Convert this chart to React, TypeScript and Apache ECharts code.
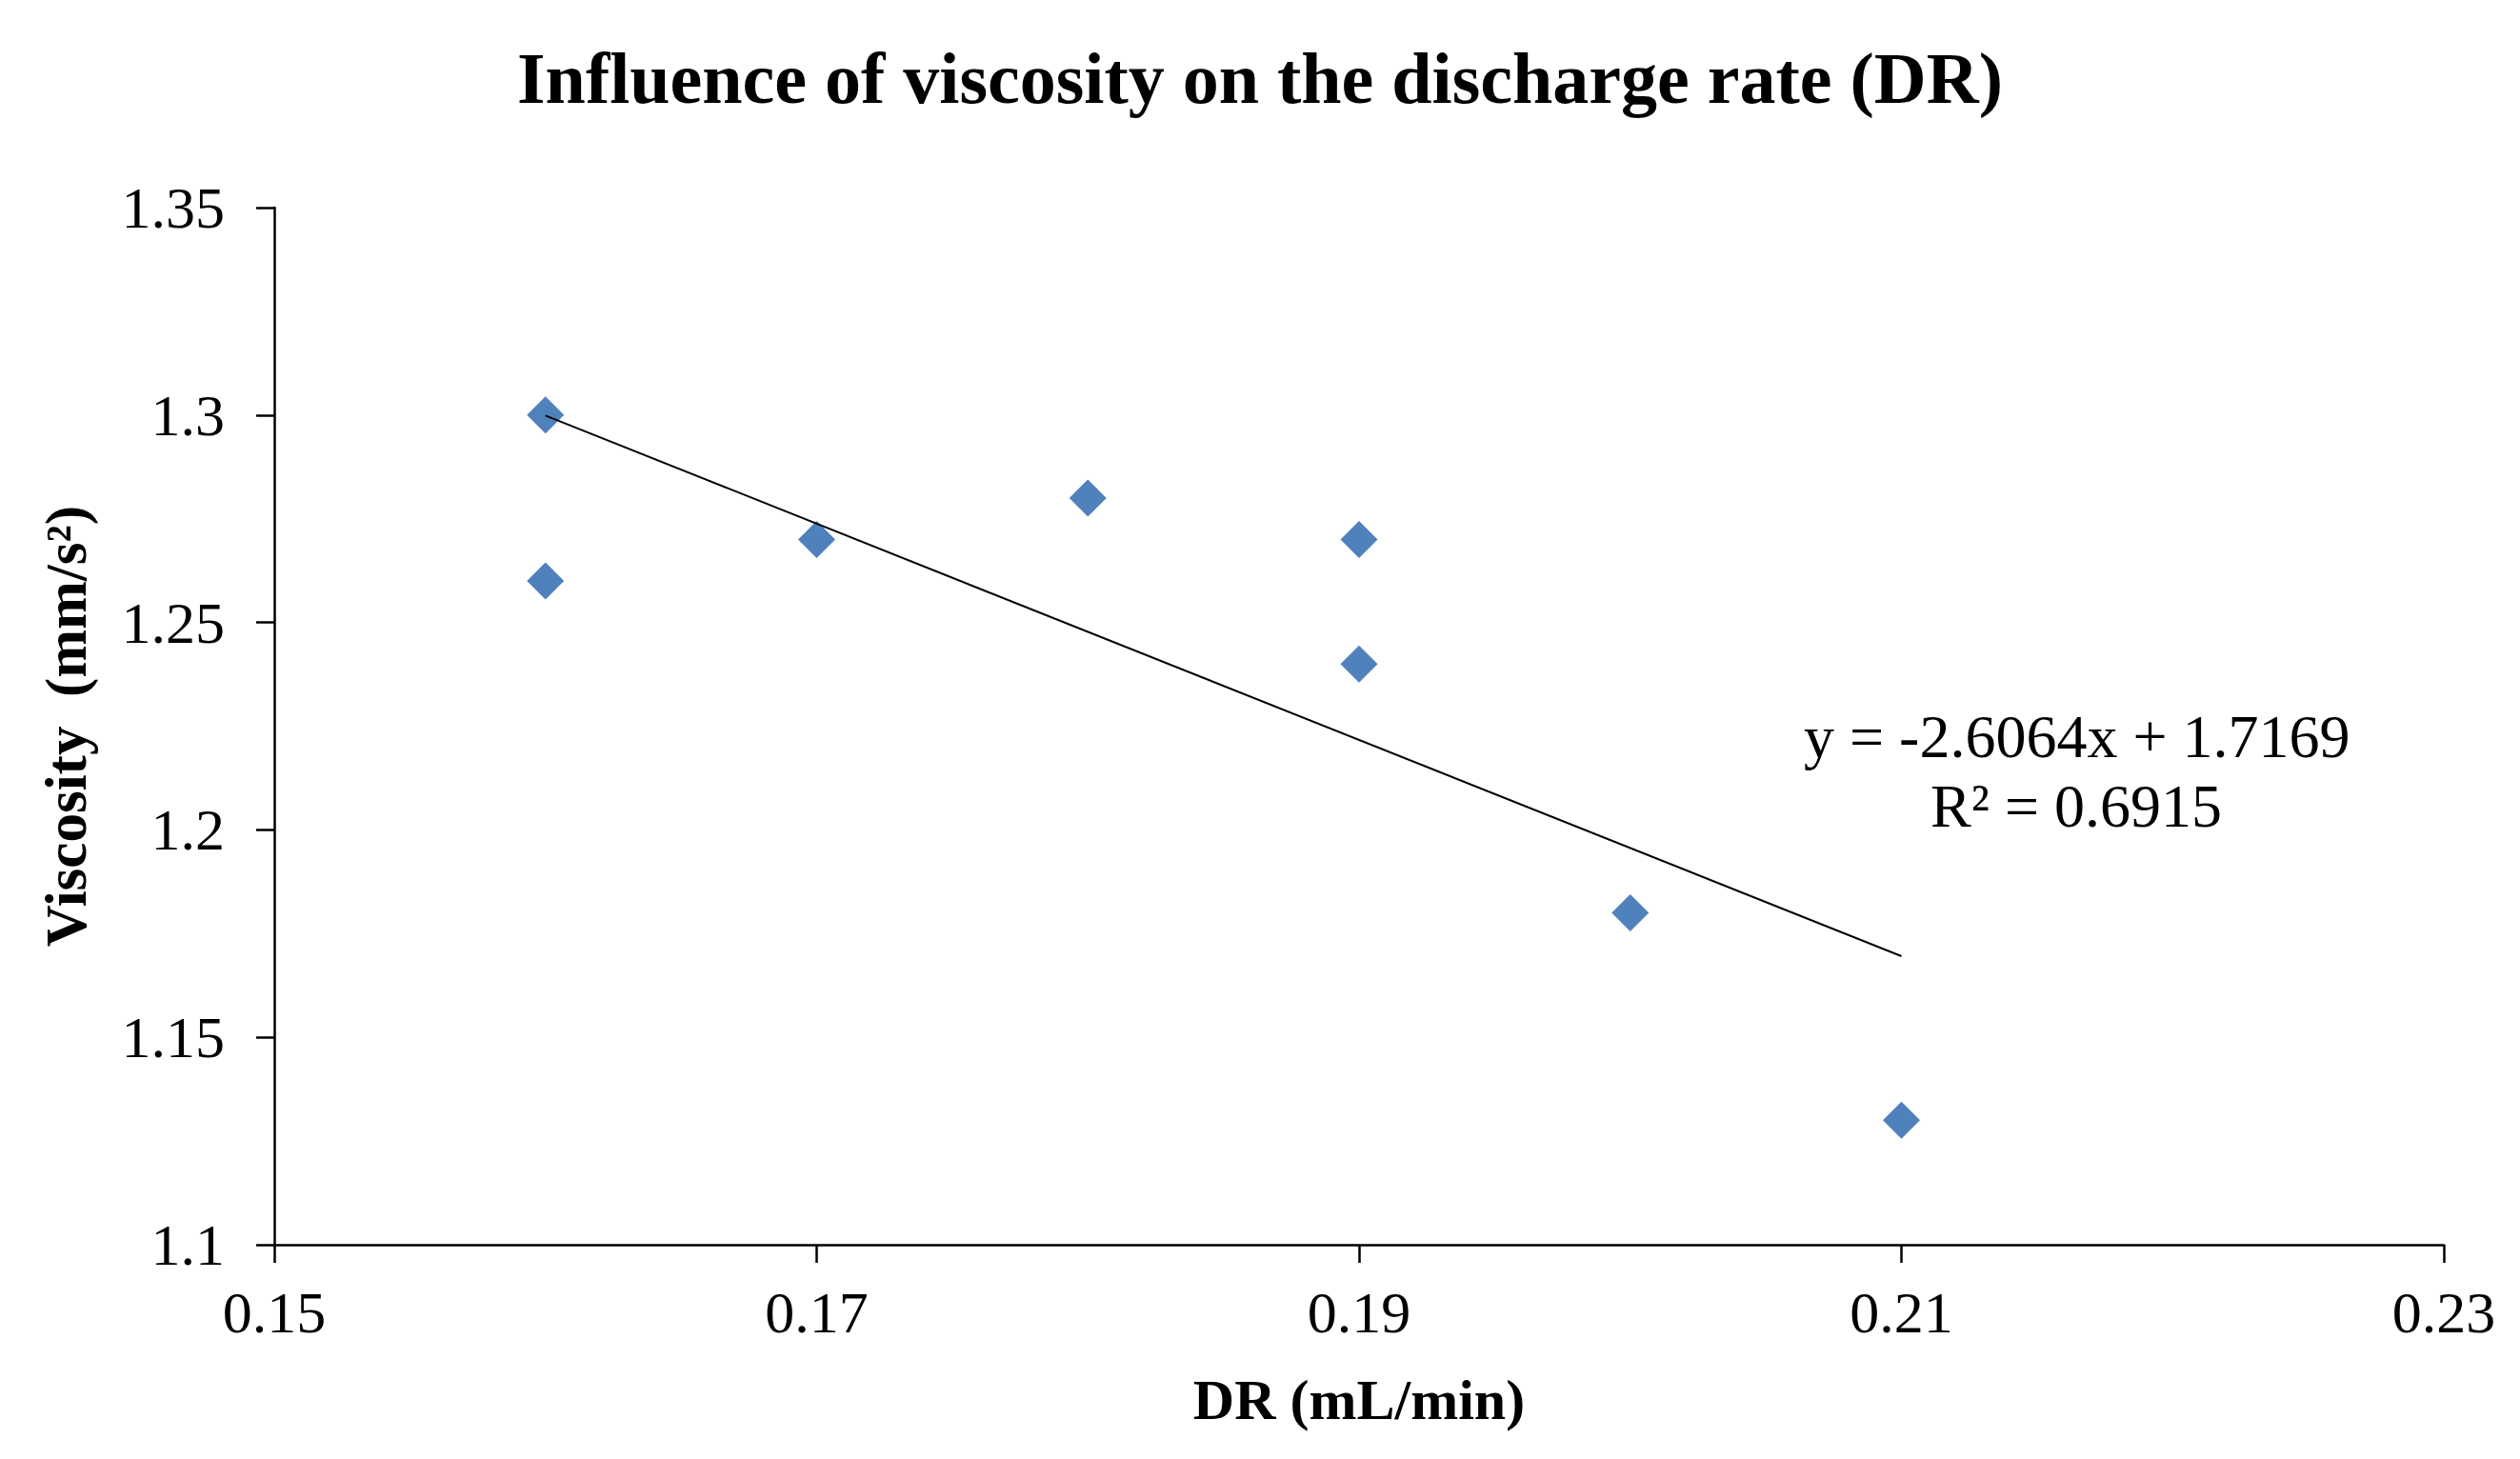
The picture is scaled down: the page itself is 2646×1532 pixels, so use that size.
import React, { useEffect, useRef } from "react";
import * as echarts from "echarts";

const DR_VALUES = [0.16, 0.16, 0.17, 0.18, 0.19, 0.19, 0.2, 0.21];
const VISCOSITY_VALUES = [1.3, 1.26, 1.27, 1.28, 1.27, 1.24, 1.18, 1.13];
const TREND_SLOPE = -2.6064;
const TREND_INTERCEPT = 1.7169;
const EQUATION_TEXT = "y = -2.6064x + 1.7169";
const R2_TEXT = "R² = 0.6915";
const TITLE = "Influence of viscosity on the discharge rate (DR)";
const X_NAME = "DR (mL/min)";
const Y_NAME = "Viscosity  (mm/s²)";

const FONT = "'Liberation Serif', 'Times New Roman', serif";

export default function App() {
  const ref = useRef<HTMLDivElement>(null);

  useEffect(() => {
    document.body.style.margin = "0";
    if (!ref.current) return;
    const chart = echarts.init(ref.current, undefined, { renderer: "svg" });

    const points = DR_VALUES.map((x, i) => [x, VISCOSITY_VALUES[i]]);
    const xMin = Math.min(...DR_VALUES);
    const xMax = Math.max(...DR_VALUES);
    const trend = [
      [xMin, TREND_SLOPE * xMin + TREND_INTERCEPT],
      [xMax, TREND_SLOPE * xMax + TREND_INTERCEPT],
    ];

    chart.setOption({
      animation: false,
      backgroundColor: "#ffffff",
      title: {
        text: TITLE,
        left: "center",
        top: 39,
        textStyle: {
          fontFamily: FONT,
          fontWeight: "bold",
          fontSize: 76,
          color: "#000",
        },
      },
      grid: { left: 288, right: 80, top: 218, bottom: 225, containLabel: false },
      xAxis: {
        type: "value",
        min: 0.15,
        max: 0.23,
        interval: 0.02,
        name: X_NAME,
        nameLocation: "middle",
        nameGap: 133,
        nameTextStyle: { fontFamily: FONT, fontWeight: "bold", fontSize: 60, color: "#000" },
        axisLine: { show: true, onZero: false, lineStyle: { color: "#000", width: 2.5 } },
        axisTick: { show: true, inside: false, length: 19, lineStyle: { color: "#000", width: 2.5 } },
        axisLabel: { fontFamily: FONT, fontSize: 62, color: "#000", margin: 40 },
        splitLine: { show: false },
      },
      yAxis: {
        type: "value",
        min: 1.1,
        max: 1.35,
        interval: 0.05,
        name: Y_NAME,
        nameLocation: "middle",
        nameGap: 188,
        nameTextStyle: { fontFamily: FONT, fontWeight: "bold", fontSize: 61, color: "#000" },
        axisLine: { show: true, onZero: false, lineStyle: { color: "#000", width: 2.5 } },
        axisTick: { show: true, inside: false, length: 19, lineStyle: { color: "#000", width: 2.5 } },
        axisLabel: { fontFamily: FONT, fontSize: 62, color: "#000", margin: 52 },
        splitLine: { show: false },
      },
      series: [
        {
          type: "scatter",
          data: points,
          symbol: "diamond",
          symbolSize: 39,
          itemStyle: { color: "#4F81BD", opacity: 1 },
          z: 2,
        },
        {
          type: "line",
          data: trend,
          showSymbol: false,
          symbol: "none",
          lineStyle: { color: "#000", width: 2 },
          z: 3,
        },
      ],
      graphic: [
        {
          type: "text",
          x: 1894,
          y: 773,
          style: {
            text: EQUATION_TEXT,
            fontFamily: FONT,
            fontSize: 64,
            fill: "#000",
            align: "left",
            verticalAlign: "middle",
          },
        },
        {
          type: "text",
          x: 2027,
          y: 846,
          style: {
            text: R2_TEXT,
            fontFamily: FONT,
            fontSize: 64,
            fill: "#000",
            align: "left",
            verticalAlign: "middle",
          },
        },
      ],
    });

    return () => chart.dispose();
  }, []);

  return <div ref={ref} style={{ width: 2646, height: 1532 }} />;
}
